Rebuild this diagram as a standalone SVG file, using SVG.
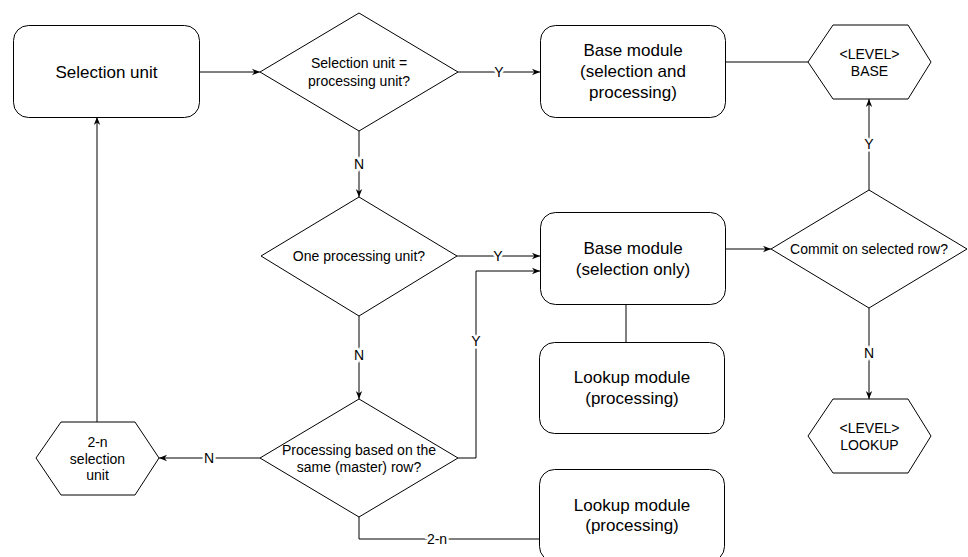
<svg xmlns="http://www.w3.org/2000/svg" width="968" height="557" viewBox="0 0 968 557">
<style>
.shape{fill:#fff;stroke:#000;stroke-width:1}
.edge{fill:none;stroke:#000;stroke-width:1}
.t{font-family:"Liberation Sans",Arial,sans-serif;fill:#000;text-anchor:middle}
.big{font-size:17px}
.sm{font-size:14px}
.lbl{font-family:"Liberation Sans",Arial,sans-serif;font-size:14px;fill:#000;text-anchor:middle;stroke:#fff;stroke-width:5;paint-order:stroke}
</style>
<defs>
<marker id="arr" viewBox="0 0 10 10" refX="10" refY="5" markerWidth="8" markerHeight="8" markerUnits="userSpaceOnUse" orient="auto">
<path d="M0,1 L10,5 L0,9 L3,5 z" fill="#000"/>
</marker>
</defs>
<rect width="968" height="557" fill="#fff"/>
<g id="connectors">
<path class="edge" d="M199,72 L260,72" marker-end="url(#arr)"/>
<path class="edge" d="M458,72 L540,72" marker-end="url(#arr)"/>
<text class="lbl" x="499" y="77">Y</text>
<path class="edge" d="M725,62 L808,62"/>
<path class="edge" d="M359,131 L359,197" marker-end="url(#arr)"/>
<text class="lbl" x="359" y="169">N</text>
<path class="edge" d="M457,256 L540,256" marker-end="url(#arr)"/>
<text class="lbl" x="498" y="261">Y</text>
<path class="edge" d="M458,458 L476,458 L476,271 L540,271" marker-end="url(#arr)"/>
<text class="lbl" x="476" y="346">Y</text>
<path class="edge" d="M626,304 L626,342"/>
<path class="edge" d="M725,249 L771,249" marker-end="url(#arr)"/>
<path class="edge" d="M869,190 L869,99" marker-end="url(#arr)"/>
<text class="lbl" x="869" y="149">Y</text>
<path class="edge" d="M869,308 L869,399" marker-end="url(#arr)"/>
<text class="lbl" x="869" y="358">N</text>
<path class="edge" d="M359,316 L359,399" marker-end="url(#arr)"/>
<text class="lbl" x="359" y="360">N</text>
<path class="edge" d="M260,458 L159,458" marker-end="url(#arr)"/>
<text class="lbl" x="209" y="463">N</text>
<path class="edge" d="M97,422 L97,117" marker-end="url(#arr)"/>
<path class="edge" d="M359,517 L359,539 L540,539"/>
<text class="lbl" x="437" y="544">2-n</text>
</g>
<g id="selection-unit">
<rect class="shape" x="13.5" y="25.5" width="186" height="92" rx="15"/>
<text class="t big" x="106.5" y="78">Selection unit</text>
</g>
<g id="decision-same-unit">
<polygon class="shape" points="359,13 458,72 359,131 260,72"/>
<text class="t sm" x="359" y="68">Selection unit =</text>
<text class="t sm" x="359" y="86">processing unit?</text>
</g>
<g id="base-module-sel-proc">
<rect class="shape" x="540.5" y="25.5" width="185" height="92" rx="15"/>
<text class="t big" x="633" y="56">Base module</text>
<text class="t big" x="633" y="77">(selection and</text>
<text class="t big" x="633" y="98">processing)</text>
</g>
<g id="level-base">
<polygon class="shape" points="833,25 908,25 931,62 908,99 833,99 808,62"/>
<text class="t sm" x="869.5" y="59">&lt;LEVEL&gt;</text>
<text class="t sm" x="869.5" y="76">BASE</text>
</g>
<g id="decision-one-unit">
<polygon class="shape" points="359,197 457,256 359,316 261,256"/>
<text class="t sm" x="359" y="261">One processing unit?</text>
</g>
<g id="base-module-sel-only">
<rect class="shape" x="540.5" y="212.5" width="185" height="92" rx="15"/>
<text class="t big" x="633" y="254">Base module</text>
<text class="t big" x="633" y="275">(selection only)</text>
</g>
<g id="decision-commit">
<polygon class="shape" points="869,190 967,249 869,308 771,249"/>
<text class="t sm" x="869" y="254">Commit on selected row?</text>
</g>
<g id="lookup-module-1">
<rect class="shape" x="539.5" y="342.5" width="185" height="91" rx="15"/>
<text class="t big" x="632" y="383">Lookup module</text>
<text class="t big" x="632" y="404">(processing)</text>
</g>
<g id="level-lookup">
<polygon class="shape" points="833,399 908,399 931,436 908,473 833,473 808,436"/>
<text class="t sm" x="869.5" y="433">&lt;LEVEL&gt;</text>
<text class="t sm" x="869.5" y="450">LOOKUP</text>
</g>
<g id="decision-master-row">
<polygon class="shape" points="359,399 458,458 359,517 260,458"/>
<text class="t sm" x="359" y="455">Processing based on the</text>
<text class="t sm" x="359" y="472">same (master) row?</text>
</g>
<g id="selection-unit-2n">
<polygon class="shape" points="61,422 135,422 159,458 135,495 61,495 36,458"/>
<text class="t sm" x="97.5" y="447">2-n</text>
<text class="t sm" x="97.5" y="464">selection</text>
<text class="t sm" x="97.5" y="480">unit</text>
</g>
<g id="lookup-module-2">
<rect class="shape" x="539.5" y="469.5" width="185" height="92" rx="15"/>
<text class="t big" x="632" y="511">Lookup module</text>
<text class="t big" x="632" y="531">(processing)</text>
</g>
</svg>
